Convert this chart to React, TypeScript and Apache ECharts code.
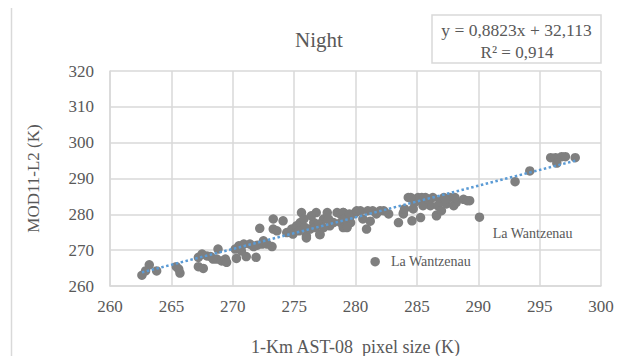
import React, { useEffect, useRef } from "react";
import * as echarts from "echarts";

const nightX = [
  262.6, 262.9, 263.2, 263.8, 265.4, 265.7, 265.6, 267.2, 267.6, 267.2, 267.5, 267.9, 268.2, 268.4,
  268.8, 268.7, 269.1, 269.4, 269.5, 270.3, 270.2, 270.5, 270.9, 271.1, 271.4, 271.9, 272.0, 272.4,
  272.5, 273.2, 272.2, 273.3, 274.1, 273.3, 273.6, 274.4, 274.8, 275.2, 275.5, 275.6, 275.8, 276.0,
  276.3, 276.6, 276.8, 277.1, 277.4, 277.7, 277.9, 278.5, 278.8, 279.0, 279.3, 279.6, 280.0, 279.6,
  274.9, 275.4, 275.9, 276.4, 276.7, 277.0, 277.4, 277.8, 278.2, 278.8, 279.0, 279.4, 270.7, 271.7,
  272.8, 276.0, 277.1, 283.9, 286.6,
  279.0, 279.1, 279.3, 279.5, 280.1, 280.6, 280.9, 281.2, 281.4, 282.0, 282.3, 282.7, 280.4, 281.0,
  281.7, 283.5, 283.9, 284.0, 284.3, 284.6, 284.7, 285.0, 285.3, 285.4, 285.8, 286.1, 286.3, 286.6,
  286.9, 287.2, 287.4, 287.7, 288.0, 288.2, 288.8, 289.3, 289.1, 284.8, 285.5, 285.9, 286.7, 287.3,
  288.1, 287.0, 285.7, 285.1, 284.5, 293.0, 294.2, 295.9, 296.3, 296.8, 297.1, 296.4, 297.9,
];
const nightY = [
  263.0, 264.2, 265.9, 264.2, 265.4, 263.6, 264.7, 265.4, 264.9, 268.0, 268.9, 268.4, 268.2, 267.5,
  270.3, 267.5, 267.0, 267.5, 266.6, 267.7, 270.3, 271.2, 271.7, 268.2, 271.7, 268.0, 271.4, 271.7,
  272.6, 271.0, 276.1, 278.7, 278.2, 275.9, 275.4, 274.9, 275.9, 276.8, 277.7, 280.5, 278.7, 274.0,
  275.9, 277.7, 280.5, 274.5, 278.7, 280.5, 276.8, 280.5, 277.7, 280.5, 276.3, 277.7, 280.5, 279.6,
  274.5, 275.4, 276.3, 279.6, 276.3, 277.3, 276.3, 278.7, 277.7, 280.0, 276.3, 278.2, 269.8, 271.0,
  271.7, 273.4, 274.3, 280.4, 279.8,
  280.5, 278.7, 276.4, 280.1, 281.0, 278.7, 275.9, 278.1, 281.0, 281.0, 281.0, 280.1, 281.0, 281.0,
  280.1, 277.7, 280.1, 281.5, 284.7, 278.2, 281.5, 283.8, 279.1, 284.7, 283.3, 282.4, 284.7, 279.6,
  283.8, 284.7, 282.9, 284.7, 282.4, 283.3, 284.2, 283.8, 283.8, 283.3, 282.4, 284.2, 282.4, 284.2,
  284.7, 281.0, 284.7, 284.7, 284.7, 289.1, 292.1, 295.8, 295.8, 296.1, 296.1, 294.3, 295.8,
];

const labelledX = [281.6, 290.1];
const labelledY = [266.8, 279.2];
const labelName = "La Wantzenau";

const trendX = [262.6, 297.9];
const slope = 0.8823;
const intercept = 32.113;

const titleText = "Night";
const eqLine1 = "y = 0,8823x + 32,113";
const eqLine2 = "R² = 0,914";
const xTitle = "1-Km AST-08  pixel size (K)";
const yTitle = "MOD11-L2 (K)";

const FONT = "'Liberation Serif', 'DejaVu Serif', serif";
const TXT = "#595959";
const GRID = "#d9d9d9";
const DOT = "#7f7f7f";

export default function App() {
  const ref = useRef<HTMLDivElement>(null);
  useEffect(() => {
    if (!ref.current) return;
    const chart = echarts.init(ref.current, undefined, { renderer: "svg" });
    const pts = nightX.map((x, i) => [x, nightY[i]]);
    const trend = trendX.map((x) => [x, slope * x + intercept]);
    const lab1 = [[labelledX[0], labelledY[0]]];
    const lab2 = [[labelledX[1], labelledY[1]]];
    chart.setOption({
      animation: false,
      backgroundColor: "#ffffff",
      textStyle: { fontFamily: FONT },
      grid: { left: 110, top: 71, right: 29, bottom: 78, containLabel: false },
      xAxis: {
        type: "value",
        min: 260,
        max: 300,
        interval: 5,
        name: xTitle,
        nameLocation: "middle",
        nameGap: 52,
        nameTextStyle: { fontFamily: FONT, fontSize: 18, color: TXT },
        axisLine: { show: true, lineStyle: { color: GRID, width: 1.5 } },
        axisTick: { show: false },
        axisLabel: { fontFamily: FONT, fontSize: 17, color: TXT, margin: 12 },
        splitLine: { show: true, lineStyle: { color: GRID, width: 1.5 } },
      },
      yAxis: {
        type: "value",
        min: 260,
        max: 320,
        interval: 10,
        name: yTitle,
        nameLocation: "middle",
        nameGap: 68,
        nameTextStyle: { fontFamily: FONT, fontSize: 17, color: TXT },
        axisLine: { show: true, lineStyle: { color: GRID, width: 1.5 } },
        axisTick: { show: false },
        axisLabel: { fontFamily: FONT, fontSize: 17, color: TXT, margin: 16 },
        splitLine: { show: true, lineStyle: { color: GRID, width: 1.5 } },
      },
      graphic: [
        {
          type: "rect",
          shape: { x: 11.5, y: 6.5, width: 640, height: 380 },
          style: { fill: "none", stroke: GRID, lineWidth: 1.5 },
          silent: true,
          z: -10,
        },
        {
          type: "text",
          x: 319,
          y: 40,
          style: {
            text: titleText,
            fontFamily: FONT,
            fontSize: 21,
            fill: TXT,
            align: "center",
            verticalAlign: "middle",
          },
        },
        {
          type: "rect",
          shape: { x: 432, y: 15, width: 169, height: 48 },
          style: { fill: "#ffffff", stroke: GRID, lineWidth: 1.5 },
        },
        {
          type: "text",
          x: 516.5,
          y: 30,
          style: {
            text: eqLine1,
            fontFamily: FONT,
            fontSize: 17.5,
            fill: TXT,
            align: "center",
            verticalAlign: "middle",
          },
        },
        {
          type: "text",
          x: 517,
          y: 52,
          style: {
            text: eqLine2,
            fontFamily: FONT,
            fontSize: 17,
            fill: TXT,
            align: "center",
            verticalAlign: "middle",
          },
        },
      ],
      series: [
        {
          type: "scatter",
          data: pts,
          symbolSize: 9.5,
          itemStyle: { color: DOT, opacity: 1 },
          z: 2,
        },
        {
          type: "scatter",
          data: lab1,
          symbolSize: 9.5,
          itemStyle: { color: DOT, opacity: 1 },
          label: {
            show: true,
            formatter: labelName,
            position: "right",
            distance: 11,
            fontFamily: FONT,
            fontSize: 14,
            color: TXT,
          },
          z: 2,
        },
        {
          type: "scatter",
          data: lab2,
          symbolSize: 9.5,
          itemStyle: { color: DOT, opacity: 1 },
          label: {
            show: true,
            formatter: labelName,
            position: "right",
            distance: 8.5,
            offset: [0, 16],
            fontFamily: FONT,
            fontSize: 14,
            color: TXT,
          },
          z: 2,
        },
        {
          type: "line",
          data: trend,
          symbol: "none",
          lineStyle: { color: "#5b9bd5", width: 2.5, type: [2.5, 2.5] },
          z: 3,
        },
      ],
    });
    return () => chart.dispose();
  }, []);
  return <div ref={ref} style={{ width: 630, height: 364, margin: -8 }} />;
}
